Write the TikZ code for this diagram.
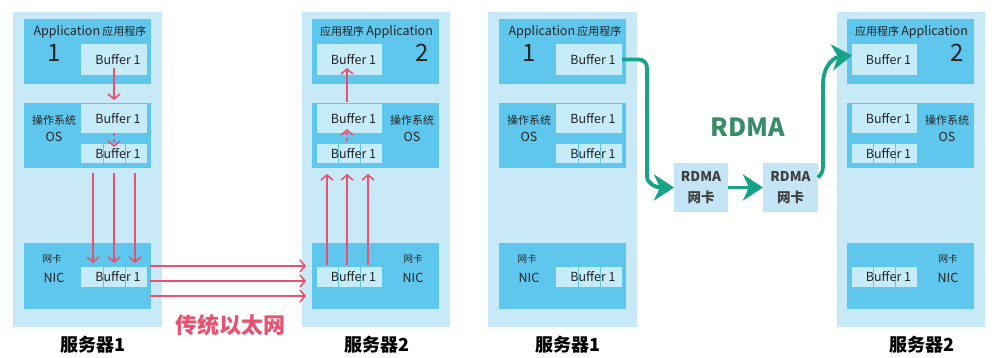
\documentclass[tikz,border=0pt]{standalone}
\usepackage{fontspec}
\setmainfont{Noto Sans CJK SC}
\usetikzlibrary{arrows.meta}
\definecolor{panel}{RGB}{200,233,248}
\definecolor{boxc}{RGB}{95,199,238}
\definecolor{bufc}{RGB}{198,236,250}
\definecolor{rdmab}{RGB}{196,229,245}
\definecolor{redl}{RGB}{232,82,112}
\definecolor{grn}{RGB}{22,163,135}
\definecolor{grnt}{RGB}{56,140,104}
\definecolor{txt}{RGB}{35,35,35}
\newcommand{\fsLat}{\fontsize{12.5}{14}\selectfont}
\newcommand{\fsCJK}{\fontsize{11}{13}\selectfont}
\newcommand{\fsNic}{\fontsize{9.5}{11}\selectfont}
\newcommand{\bufl}{\hspace*{8pt}Buffer 1}
\tikzset{
  panelbox/.style={fill=panel, draw=none, inner sep=0pt, outer sep=0pt},
  bigbox/.style={fill=boxc, draw=none, inner sep=0pt, outer sep=0pt},
  buf/.style={fill=bufc, draw=none, inner sep=0pt, outer sep=0pt, text=txt, font=\fsLat},
  txtn/.style={inner sep=0pt, text=txt},
  numn/.style={inner sep=0pt, text=txt, font=\fontsize{24}{24}\selectfont},
  segline/.style={draw=boxc, line width=1pt},
  redarr/.style={draw=redl, line width=1.6pt, -{Straight Barb[length=5pt,width=12pt]}},
  grnarr/.style={draw=grn, line width=3.8pt, -{Stealth[length=20pt,width=26pt,inset=6pt]}},
  rdmabox/.style={fill=rdmab, draw=none, inner sep=0pt, outer sep=0pt, text=black!75, align=center, font=\fontsize{13.5}{21}\selectfont\bfseries, minimum width=54pt, minimum height=49pt},
  srv/.style={inner sep=0pt, text=black, font=\fontsize{18}{20}\selectfont\bfseries}
}
% type A: application label left, buffers right
\newcommand{\serverA}[2]{%
\begin{scope}[shift={(#2,0)}, name prefix=#1-]
\node[panelbox, minimum width=149pt, minimum height=315pt] (panel) at (74.5,169.5) {};
\node[bigbox, minimum width=127pt, minimum height=65pt] (app) at (74.5,51.5) {};
\node[txtn] (applbl) at (77,32) {{\fsLat Application} {\fsCJK 应用程序}};
\node[numn] (num) at (41,53) {1};
\node[buf, minimum width=66pt, minimum height=31pt] (abuf) at (101,59.5) {\bufl};
\node[bigbox, minimum width=127pt, minimum height=65pt] (os) at (74.5,135.5) {};
\node[buf, minimum width=66pt, minimum height=29pt] (obuf) at (101,118.5) {\bufl};
\node[buf, minimum width=66pt, minimum height=19pt] (sbuf) at (101,153.5) {};
\draw[segline] (90,144) -- (90,163) (112,144) -- (112,163);
\node[txtn, font=\fsLat] (sbuftxt) at (101,153.5) {\bufl};
\coordinate (sb1) at (80,153.5);
\coordinate (sb2) at (101,153.5);
\coordinate (sb3) at (122,153.5);
\node[txtn, font=\fsCJK] (oscn) at (41,120) {操作系统};
\node[txtn, font=\fsLat] (osen) at (41,137) {OS};
\node[bigbox, minimum width=127pt, minimum height=66pt] (nic) at (74.5,276) {};
\node[buf, minimum width=66pt, minimum height=20pt] (nbuf) at (101,277) {};
\draw[segline] (90,267) -- (90,287) (112,267) -- (112,287);
\node[txtn, font=\fsLat] (nbuftxt) at (101,277) {\bufl};
\node[txtn, font=\fsNic] (niccn) at (39,259) {网卡};
\node[txtn, font=\fsLat] (nicen) at (41,278) {NIC};
\end{scope}}
% type B: buffers left, labels right
\newcommand{\serverB}[2]{%
\begin{scope}[shift={(#2,0)}, name prefix=#1-]
\node[panelbox, minimum width=148pt, minimum height=315pt] (panel) at (74,169.5) {};
\node[bigbox, minimum width=127pt, minimum height=65pt] (app) at (73.5,51.5) {};
\node[txtn] (applbl) at (74.5,32) {{\fsCJK 应用程序} {\fsLat Application}};
\node[numn] (num) at (120,53) {2};
\node[buf, minimum width=65pt, minimum height=31pt] (abuf) at (47.5,59.5) {\bufl};
\node[bigbox, minimum width=127pt, minimum height=65pt] (os) at (73.5,135.5) {};
\node[buf, minimum width=65pt, minimum height=29pt] (obuf) at (47.5,118.5) {\bufl};
\node[buf, minimum width=65pt, minimum height=19pt] (sbuf) at (47.5,153.5) {};
\draw[segline] (36.7,144) -- (36.7,163) (58.3,144) -- (58.3,163);
\node[txtn, font=\fsLat] (sbuftxt) at (47.5,153.5) {\bufl};
\node[txtn, font=\fsCJK] (oscn) at (110,120) {操作系统};
\node[txtn, font=\fsLat] (osen) at (110,137) {OS};
\node[bigbox, minimum width=127pt, minimum height=66pt] (nic) at (73.5,276) {};
\node[buf, minimum width=65pt, minimum height=20pt] (nbuf) at (47.5,277) {};
\draw[segline] (36.7,267) -- (36.7,287) (58.3,267) -- (58.3,287);
\node[txtn, font=\fsLat] (nbuftxt) at (47.5,277) {\bufl};
\coordinate (nb1) at (25,277);
\coordinate (nb2) at (45,277);
\coordinate (nb3) at (66,277);
\node[txtn, font=\fsNic] (niccn) at (111,259) {网卡};
\node[txtn, font=\fsLat] (nicen) at (111,278) {NIC};
\end{scope}}
\begin{document}
\begin{tikzpicture}[x=1pt, y=-1pt]
\useasboundingbox (0,0) rectangle (992,358);
\fill[white] (0,0) rectangle (992,358);
\serverA{s1}{13}
\serverB{s2}{302}
\serverA{s3}{488}
\serverB{s4}{837}
% server labels
\node[srv] (l1) at (93,345) {服务器1};
\node[srv] (l2) at (377,345) {服务器2};
\node[srv] (l3) at (568,345) {服务器1};
\node[srv] (l4) at (922,345) {服务器2};
% traditional ethernet arrows
\draw[redarr] ([yshift=7pt]s1-abuf.south) -- ([yshift=4pt]s1-obuf.north);
\draw[redarr, dashed] (s1-obuf.south) -- ([yshift=-3pt]s1-sbuf.north);
\foreach \i in {1,2,3}
  \draw[redarr] ([yshift=-5pt]s1-os.south -| s1-sb\i) -- ([yshift=4pt]s1-nbuf.north -| s1-sb\i);
\foreach \d in {11,-4,-19}
  \draw[redarr] ([xshift=3pt,yshift=\d pt]s1-nbuf.east) -- ([xshift=-6pt,yshift=\d pt]s1-nbuf.east -| s2-nic.west);
\foreach \i in {1,2,3}
  \draw[redarr] ([yshift=2pt]s2-nbuf.north -| s2-nb\i) -- ([yshift=-6pt]s2-os.south -| s2-nb\i);
\draw[redarr] ([yshift=2pt]s2-obuf.north -| s2-nb2) -- ([yshift=7pt]s2-abuf.south -| s2-nb2);
\draw[redarr, dashed] ([yshift=3pt]s2-sbuf.north -| s2-nb2) -- ([yshift=4pt]s2-obuf.south -| s2-nb2);
\node[inner sep=0pt, text=redl, font=\fontsize{22}{24}\selectfont\bfseries] (eth) at (230,325) {传统以太网};
% RDMA
\node[rdmabox] (r1) at (701,187.5) {RDMA\\网卡};
\node[rdmabox, minimum width=55pt] (r2) at (790.5,187.5) {RDMA\\网卡};
\node[inner sep=0pt, text=grnt, font=\fontsize{25}{27}\selectfont\bfseries] (rdma) at (748,127) {RDMA};
\coordinate (g1a) at (647,168);
\coordinate (g2a) at (823,160);
\coordinate (g2b) at (823,85);
\draw[grnarr, rounded corners=8pt] (s3-abuf.east) -| (g1a) [sharp corners] .. controls (647,184) and (656,187.5) .. (r1.west);
\draw[grnarr] (r1.east) -- (r2.west);
\draw[grnarr] ([yshift=10pt]r2.east) .. controls (823,172) .. (g2a) -- (g2b) .. controls (823,63) and (836,57) .. ([yshift=4pt]s4-abuf.west);
\end{tikzpicture}
\end{document}
